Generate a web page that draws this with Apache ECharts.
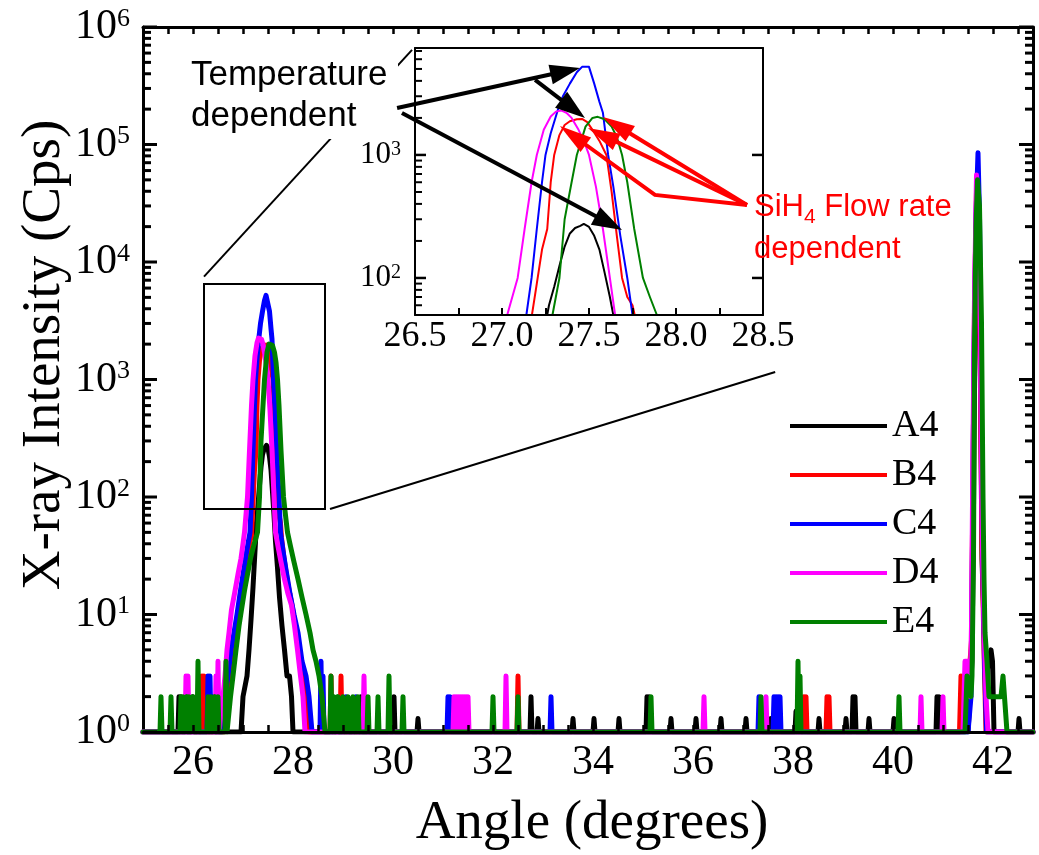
<!DOCTYPE html>
<html>
<head>
<meta charset="utf-8">
<script src="https://cdn.jsdelivr.net/npm/echarts@6/dist/echarts.min.js"></script>
<style>
  html, body { margin: 0; padding: 0; background: #ffffff; }
  #chart { width: 1039px; height: 855px; }
</style>
</head>
<body>
<div id="chart"></div>
<script>
// ---------------- scan range ----------------
const SCAN_START = 25;
const SCAN_END = 42.8;
const SCAN_STEP = 0.02;

// ---------------- tick labels ----------------
const X_TICK_LABELS = [26, 28, 30, 32, 34, 36, 38, 40, 42];
const Y_RANGE = [1, 1000000];
const Y_MAJOR = [1, 10, 100, 1000, 10000, 100000, 1000000];
const INSET_X_LABELS = [26.5, 27.0, 27.5, 28.0, 28.5];
const INSET_X_RANGE = [26.5, 28.5];
const INSET_Y_RANGE = [50, 7400];
const INSET_Y_MAJOR = [100, 1000];

// ---------------- samples ----------------
const SERIES_NAMES = ['A4', 'B4', 'C4', 'D4', 'E4'];

// (angle, Cps) around the 27.5 deg reflection
const A4_main = [[26.96,1],[27.0,2],[27.04,2],[27.08,3],[27.12,5],[27.16,9],[27.2,17],[27.24,35],[27.27,60],[27.3,85],[27.33,125],[27.36,180],[27.39,230],[27.42,255],[27.45,265],[27.47,275],[27.5,260],[27.53,220],[27.56,170],[27.59,110],[27.62,70],[27.65,42],[27.69,25],[27.73,14],[27.78,8],[27.83,5],[27.88,3],[27.93,3],[27.97,2],[28.0,1]];
const B4_main = [[26.62,1],[26.68,2],[26.75,4],[26.82,6],[26.9,10],[26.98,16],[27.05,25],[27.12,38],[27.17,48],[27.2,90],[27.23,170],[27.26,250],[27.28,600],[27.3,1000],[27.33,1450],[27.36,1750],[27.39,1880],[27.43,1950],[27.46,1960],[27.49,1850],[27.52,1600],[27.56,1300],[27.6,1000],[27.63,500],[27.66,220],[27.69,100],[27.72,70],[27.75,60],[27.77,45],[27.82,30],[27.9,18],[27.98,12],[28.05,8],[28.12,5],[28.2,3],[28.26,2],[28.32,1]];
const C4_main = [[26.58,1],[26.64,2],[26.7,3],[26.76,5],[26.82,7],[26.88,10],[26.94,15],[27.0,22],[27.06,32],[27.1,40],[27.14,50],[27.17,100],[27.2,250],[27.23,600],[27.25,1000],[27.28,1500],[27.32,2300],[27.35,3000],[27.39,3800],[27.43,4700],[27.46,5200],[27.5,5200],[27.53,3800],[27.56,2700],[27.58,2200],[27.61,1000],[27.64,550],[27.68,220],[27.72,100],[27.75,50],[27.8,35],[27.86,24],[27.94,15],[28.02,10],[28.1,7],[28.18,4],[28.26,3],[28.32,2],[28.38,1]];
const D4_main = [[26.56,1],[26.6,2],[26.64,3],[26.68,5],[26.72,7],[26.77,11],[26.83,15],[26.9,22],[26.96,30],[27.0,40],[27.03,50],[27.09,100],[27.13,250],[27.17,600],[27.2,1000],[27.24,1600],[27.28,2050],[27.31,2250],[27.34,2300],[27.37,2200],[27.4,2000],[27.44,1600],[27.47,1300],[27.5,1000],[27.54,550],[27.58,250],[27.62,100],[27.65,50],[27.7,38],[27.76,28],[27.83,20],[27.9,15],[27.97,12],[28.03,8],[28.09,5],[28.15,3],[28.2,2],[28.24,1]];
const E4_main = [[26.7,1],[26.75,2],[26.8,3],[26.86,5],[26.92,8],[26.97,11],[27.03,16],[27.09,22],[27.15,30],[27.21,38],[27.26,45],[27.29,50],[27.33,100],[27.36,300],[27.4,600],[27.43,1000],[27.48,1700],[27.52,2000],[27.55,2040],[27.59,1950],[27.63,1700],[27.66,1400],[27.69,1000],[27.72,600],[27.76,250],[27.81,100],[27.85,70],[27.89,50],[27.95,38],[28.02,28],[28.1,20],[28.18,14],[28.26,10],[28.34,7],[28.4,5],[28.46,4],[28.52,3],[28.58,2],[28.64,1]];

// (angle, Cps) around the 41.7 deg reflection
const A4_second = [[41.5,1],[41.58,4],[41.61,80],[41.64,3000],[41.68,30000],[41.72,12000],[41.75,800],[41.78,30],[41.82,8],[41.86,3],[41.92,4],[41.96,5],[41.99,4],[42.02,1]];
const B4_second = [[41.33,1],[41.36,3],[41.4,3],[41.46,2],[41.52,3],[41.57,6],[41.6,150],[41.63,4000],[41.67,40000],[41.72,15000],[41.75,1000],[41.78,40],[41.82,5],[41.86,1]];
const C4_second = [[41.5,1],[41.56,2],[41.59,40],[41.62,1500],[41.66,25000],[41.7,85000],[41.73,25000],[41.76,1500],[41.79,40],[41.83,4],[41.87,1]];
const D4_second = [[41.4,1],[41.44,4],[41.5,4],[41.54,2],[41.57,8],[41.6,300],[41.63,5000],[41.67,55000],[41.72,20000],[41.75,1500],[41.78,60],[41.82,8],[41.86,2],[41.9,1]];
const E4_second = [[41.44,1],[41.48,3],[41.52,3],[41.56,2],[41.58,3],[41.61,30],[41.63,2000],[41.66,20000],[41.69,50000],[41.73,30000],[41.77,3000],[41.8,100],[41.82,20],[41.84,7],[41.88,4],[41.92,2],[41.96,2],[42.0,2],[42.06,2],[42.1,2],[42.16,2],[42.2,3],[42.24,3],[42.28,1]];

// isolated background counts (angle, Cps)
const A4_noise = [[25.72,2],[25.76,2],[26.0,2],[29.36,2],[30.02,2],[30.5,1.3],[32.76,2],[32.9,1.3],[33.6,1.3],[34.02,1.3],[34.52,1.3],[35.08,2],[35.12,2],[35.56,1.3],[36.06,1.3],[36.56,1.3],[37.06,1.3],[37.56,1.3],[38.06,1.5],[38.52,1.3],[39.06,1.3],[39.2,2],[39.24,2],[39.52,1.3],[40.02,1.3],[40.88,2],[40.92,2],[42.52,1.3]];
const B4_noise = [[26.18,3],[26.22,3],[26.26,2],[28.76,3],[28.96,3],[32.5,3],[38.22,2],[38.26,2],[38.68,2],[38.72,2]];
const C4_noise = [[26.3,3],[26.34,3],[26.4,2],[28.56,4],[28.6,3],[29.06,2],[29.26,2],[31.1,2],[31.14,2],[33.16,2],[37.32,2],[37.62,2],[37.66,2],[37.7,2],[37.74,2]];
const D4_noise = [[25.86,3],[25.9,3],[26.46,3],[26.5,4],[29.42,3],[31.22,2],[31.26,2],[31.3,2],[31.34,2],[31.38,2],[31.42,2],[31.46,2],[31.5,2],[32.26,3],[36.22,2],[37.46,2],[40.56,2],[41.0,2]];
const E4_noise = [[25.36,2],[25.56,2],[25.76,2],[25.8,2],[25.88,2],[25.92,2],[26.0,2],[26.1,4],[26.3,2],[26.36,2],[26.44,2],[26.5,2],[26.66,4],[28.76,3],[28.82,2],[28.9,2],[29.0,2],[29.1,2],[29.2,2],[29.3,2],[29.5,2],[29.7,2],[29.92,3],[30.2,2],[32.0,2],[32.5,2],[35.16,2],[37.36,2],[38.1,4],[38.14,3],[40.12,2]];

// ---------------- annotations (data coordinates) ----------------
const ZOOM_BOX = [[26.22, 79], [28.64, 6500]];                 // main plot
const LINK_TOP = { main: [26.22, 7500], inset: [26.483, 7150] };
const LINK_BOTTOM = { main: [28.74, 79], inset: [28.57, 17.2] };
const TEMP_ARROWS = [                                            // inset plot
  [[26.397, 2410], [27.448, 5090]],
  [[27.19, 4070], [27.477, 2000]],
  [[26.425, 2190], [27.69, 245]]
];
const FLOW_ARROWS = [
  [[28.408, 392], [27.58, 2036]],
  [[28.408, 392], [27.494, 1657]],
  [[28.408, 392], [27.879, 473], [27.333, 1720]]
];

// ---------------- styling ----------------
const COLORS = { A4: '#000000', B4: '#ff0000', C4: '#0000ff', D4: '#ff00ff', E4: '#008000' };
const SERIF = 'Liberation Serif, Times New Roman, serif';
const SANS = 'Liberation Sans, Arial, sans-serif';
const INK = '#000000';

function buildScan(main, second, noise) {
  const pts = [[SCAN_START, 1], [SCAN_END, 1]];
  main.forEach(p => pts.push(p));
  second.forEach(p => pts.push(p));
  noise.forEach(([a, v]) => { pts.push([a - SCAN_STEP, 1], [a, v], [a + SCAN_STEP, 1]); });
  pts.sort((p, q) => p[0] - q[0]);
  return pts;
}

const scans = {
  A4: { main: A4_main, full: buildScan(A4_main, A4_second, A4_noise) },
  B4: { main: B4_main, full: buildScan(B4_main, B4_second, B4_noise) },
  C4: { main: C4_main, full: buildScan(C4_main, C4_second, C4_noise) },
  D4: { main: D4_main, full: buildScan(D4_main, D4_second, D4_noise) },
  E4: { main: E4_main, full: buildScan(E4_main, E4_second, E4_noise) }
};

function stepTicks(lo, hi, step) {
  const out = [];
  for (let v = lo; v <= hi + 1e-9; v += step) out.push(Math.round(v * 1000) / 1000);
  return out;
}
// 2..9 x 10^k strictly inside a range
function minorLogTicks(lo, hi) {
  const out = [];
  for (let d = 1; d <= 1e6; d *= 10) {
    for (let m = 2; m <= 9; m++) { const v = m * d; if (v > lo && v < hi) out.push(v); }
  }
  return out;
}

// "10^k" for whole decades, nothing elsewhere
const powLabel = v => {
  const e = Math.log10(v);
  return Math.abs(e - Math.round(e)) < 1e-6 ? '{b|10}{s|' + Math.round(e) + '}' : '';
};

const chart = echarts.init(document.getElementById('chart'), null, { renderer: 'canvas' });

const mainSeries = SERIES_NAMES.map(n => ({
  name: n, type: 'line', xAxisIndex: 0, yAxisIndex: 0,
  data: scans[n].full, symbol: 'none', showSymbol: false, animation: false,
  lineStyle: { width: 5, color: COLORS[n], cap: 'round', join: 'round' },
  itemStyle: { color: COLORS[n] }, z: 2
}));
const insetSeries = SERIES_NAMES.map(n => ({
  name: n, type: 'line', xAxisIndex: 2, yAxisIndex: 2,
  data: scans[n].main, symbol: 'none', showSymbol: false, animation: false,
  lineStyle: { width: 2, color: COLORS[n], join: 'round' },
  itemStyle: { color: COLORS[n] }, z: 2
}));

const option = {
  animation: false,
  backgroundColor: '#ffffff',
  textStyle: { fontFamily: SERIF, color: INK },
  grid: [
    { left: 143, top: 27, width: 890, height: 705, outerBoundsMode: 'none' },
    { left: 415, top: 48, width: 348, height: 267, outerBoundsMode: 'none' }
  ],
  legend: {
    data: SERIES_NAMES, orient: 'vertical', left: 785, top: 402,
    icon: 'rect', itemWidth: 97, itemHeight: 4, itemGap: 11,
    textStyle: { fontFamily: SERIF, fontSize: 38, lineHeight: 38, color: INK }
  },
  xAxis: [
    { type: 'value', gridIndex: 0, position: 'bottom', min: SCAN_START, max: SCAN_END, z: 3,
      axisLine: { onZero: false, lineStyle: { color: INK, width: 3 } },
      axisTick: { show: true, inside: true, length: 7, lineStyle: { color: INK, width: 2.5 },
                  customValues: stepTicks(25.5, 42.5, 0.5) },
      axisLabel: { customValues: X_TICK_LABELS, fontFamily: SERIF, fontSize: 42, color: INK, margin: 10 },
      splitLine: { show: false } },
    { type: 'value', gridIndex: 0, position: 'top', min: SCAN_START, max: SCAN_END,
      axisLine: { onZero: false, lineStyle: { color: INK, width: 3 } },
      axisTick: { show: true, inside: true, length: 7, lineStyle: { color: INK, width: 2.5 },
                  customValues: stepTicks(25.5, 42.5, 0.5) },
      axisLabel: { show: false }, splitLine: { show: false } },
    { type: 'value', gridIndex: 1, position: 'bottom', min: INSET_X_RANGE[0], max: INSET_X_RANGE[1], z: 3,
      axisLine: { onZero: false, lineStyle: { color: INK, width: 2 } },
      axisTick: { show: true, inside: true, length: 7, lineStyle: { color: INK, width: 2 },
                  customValues: stepTicks(26.75, 28.25, 0.25) },
      axisLabel: { customValues: INSET_X_LABELS, formatter: v => v.toFixed(1),
                   fontFamily: SERIF, fontSize: 36, color: INK, margin: 4 },
      splitLine: { show: false } },
    { type: 'value', gridIndex: 1, position: 'top', min: INSET_X_RANGE[0], max: INSET_X_RANGE[1],
      axisLine: { onZero: false, lineStyle: { color: INK, width: 2 } },
      axisTick: { show: false }, axisLabel: { show: false }, splitLine: { show: false } }
  ],
  yAxis: [
    { type: 'log', logBase: 10, gridIndex: 0, position: 'left', min: Y_RANGE[0], max: Y_RANGE[1],
      axisLine: { show: true, onZero: false, lineStyle: { color: INK, width: 3 } },
      axisTick: { show: false },
      axisLabel: { formatter: powLabel, margin: 13,
        rich: { b: { fontFamily: SERIF, fontSize: 42, lineHeight: 42, color: INK },
                s: { fontFamily: SERIF, fontSize: 26, lineHeight: 26, color: INK, verticalAlign: 'top' } } },
      splitLine: { show: false } },
    { type: 'log', logBase: 10, gridIndex: 0, position: 'right', min: Y_RANGE[0], max: Y_RANGE[1],
      axisLine: { show: true, onZero: false, lineStyle: { color: INK, width: 3 } },
      axisTick: { show: false }, axisLabel: { show: false }, splitLine: { show: false } },
    { type: 'log', logBase: 10, gridIndex: 1, position: 'left', min: INSET_Y_RANGE[0], max: INSET_Y_RANGE[1],
      axisLine: { show: true, onZero: false, lineStyle: { color: INK, width: 2 } },
      axisTick: { show: false },
      axisLabel: { formatter: powLabel, margin: 14, showMinLabel: false, showMaxLabel: false,
        rich: { b: { fontFamily: SERIF, fontSize: 31, lineHeight: 31, color: INK },
                s: { fontFamily: SERIF, fontSize: 20, lineHeight: 20, color: INK, verticalAlign: 'top' } } },
      splitLine: { show: false } },
    { type: 'log', logBase: 10, gridIndex: 1, position: 'right', min: INSET_Y_RANGE[0], max: INSET_Y_RANGE[1],
      axisLine: { show: true, onZero: false, lineStyle: { color: INK, width: 2 } },
      axisTick: { show: false }, axisLabel: { show: false }, splitLine: { show: false } }
  ],
  series: mainSeries.concat(insetSeries)
};

chart.setOption(option);

// ---------------- annotation layer ----------------
const toMain = v => chart.convertToPixel({ gridIndex: 0 }, v);
const toInset = v => chart.convertToPixel({ gridIndex: 1 }, v);

function arrow(ptsPx, color, lw, headLen, headHalf, z) {
  const n = ptsPx.length;
  const [tx, ty] = ptsPx[n - 1];
  const [px, py] = ptsPx[n - 2];
  const dx = tx - px, dy = ty - py, d = Math.hypot(dx, dy);
  const ux = dx / d, uy = dy / d;
  const bx = tx - ux * headLen, by = ty - uy * headLen;
  const shaft = ptsPx.slice(0, n - 1).concat([[bx + ux * 3, by + uy * 3]]);
  return [
    { type: 'polyline', z, shape: { points: shaft },
      style: { stroke: color, lineWidth: lw, fill: null, lineJoin: 'miter' } },
    { type: 'polygon', z, shape: { points: [[tx, ty], [bx - uy * headHalf, by + ux * headHalf], [bx + uy * headHalf, by - ux * headHalf]] },
      style: { fill: color } }
  ];
}

// inward tick marks on the log axes, positioned through each grid's own scale
function logTicks(toPx, values, xEdges, len, width, bothSides, out) {
  values.forEach(v => {
    const l = toPx([xEdges[0], v]);
    out.push({ type: 'line', z: 70, shape: { x1: l[0], y1: l[1], x2: l[0] + len, y2: l[1] },
               style: { stroke: INK, lineWidth: width, lineCap: 'butt' } });
    if (bothSides) {
      const r = toPx([xEdges[1], v]);
      out.push({ type: 'line', z: 70, shape: { x1: r[0], y1: r[1], x2: r[0] - len, y2: r[1] },
                 style: { stroke: INK, lineWidth: width, lineCap: 'butt' } });
    }
  });
}

const b0 = toMain(ZOOM_BOX[0]), b1 = toMain(ZOOM_BOX[1]);
const lt0 = toMain(LINK_TOP.main), lt1 = toInset(LINK_TOP.inset);
const lb0 = toMain(LINK_BOTTOM.main), lb1 = toInset(LINK_BOTTOM.inset);

const elements = [
  { type: 'rect', z: 50, shape: { x: Math.min(b0[0], b1[0]), y: Math.min(b0[1], b1[1]),
      width: Math.abs(b1[0] - b0[0]), height: Math.abs(b1[1] - b0[1]) },
    style: { fill: null, stroke: INK, lineWidth: 2 } },
  { type: 'line', z: 50, shape: { x1: lt0[0], y1: lt0[1], x2: lt1[0], y2: lt1[1] },
    style: { stroke: INK, lineWidth: 2 } },
  { type: 'line', z: 50, shape: { x1: lb0[0], y1: lb0[1], x2: lb1[0], y2: lb1[1] },
    style: { stroke: INK, lineWidth: 2 } },
  // backing for the temperature label
  { type: 'rect', z: 51, shape: { x: 184, y: 57, width: 214, height: 82 }, style: { fill: '#ffffff' } },
  { type: 'text', z: 52, x: 191, y: 55,
    style: { text: 'Temperature\ndependent', fontFamily: SANS, fontSize: 35, lineHeight: 41,
             fill: INK, align: 'left', verticalAlign: 'top' } },
  { type: 'text', z: 52, x: 754, y: 186,
    style: { text: 'SiH{sub|4} Flow rate\ndependent', fontFamily: SANS, fontSize: 31, lineHeight: 42,
             fill: '#ff0000', align: 'left', verticalAlign: 'top',
             rich: { sub: { fontFamily: SANS, fontSize: 21, lineHeight: 21, fill: '#ff0000',
                            verticalAlign: 'top', padding: [21, 0, 0, 0] } } } },
  // axis titles
  { type: 'text', z: 52, x: 592, y: 824,
    style: { text: 'Angle (degrees)', fontFamily: SERIF, fontSize: 55, fill: INK,
             align: 'center', verticalAlign: 'middle' } },
  { type: 'text', z: 52, x: 45, y: 355, rotation: Math.PI / 2,
    style: { text: 'X-ray Intensity (Cps)', fontFamily: SERIF, fontSize: 55, fill: INK,
             align: 'center', verticalAlign: 'middle' } }
];

// main plot: decades and their 2..9 subdivisions on both vertical edges
logTicks(toMain, Y_MAJOR, [SCAN_START, SCAN_END], 14, 3, true, elements);
logTicks(toMain, minorLogTicks(Y_RANGE[0], Y_RANGE[1]), [SCAN_START, SCAN_END], 8, 3, true, elements);
// inset: decades on both edges, subdivisions on the left edge
logTicks(toInset, INSET_Y_MAJOR, INSET_X_RANGE, 11, 2.5, true, elements);
logTicks(toInset, minorLogTicks(INSET_Y_RANGE[0], INSET_Y_RANGE[1]), INSET_X_RANGE, 7, 2, false, elements);

TEMP_ARROWS.forEach(path => {
  arrow(path.map(toInset), INK, 4, 30, 10, 60).forEach(e => elements.push(e));
});
FLOW_ARROWS.forEach(path => {
  arrow(path.map(toInset), '#ff0000', 4, 32, 9, 61).forEach(e => elements.push(e));
});

chart.setOption({ graphic: { elements } });
</script>
</body>
</html>
